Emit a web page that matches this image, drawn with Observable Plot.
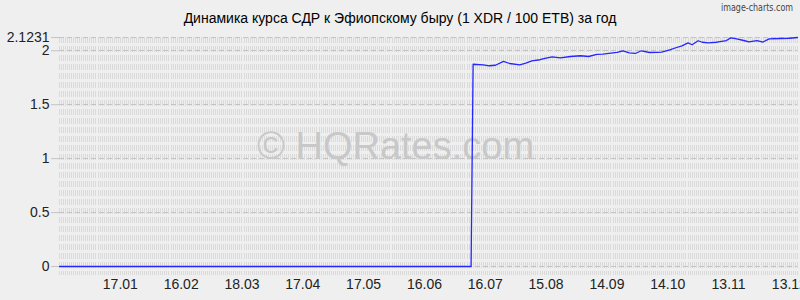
<!DOCTYPE html>
<html>
<head>
<meta charset="utf-8">
<script src="https://cdn.jsdelivr.net/npm/d3@7"></script>
<script src="https://cdn.jsdelivr.net/npm/@observablehq/plot@0.6"></script>
<style>
  html, body { margin: 0; padding: 0; background: #efefef; }
  #wrap { position: relative; width: 800px; height: 300px; overflow: hidden; background: #efefef; }
  #title { position: absolute; left: 0; top: 10px; width: 800px; text-align: center;
           font: 14px "Liberation Sans", Arial, sans-serif; color: #000; }
  #brand { position: absolute; right: 5px; top: 1px; }
  #chart { position: absolute; left: 0; top: 0; }
</style>
</head>
<body>
<div id="wrap">
  <div id="chart"></div>
  <div id="title">Динамика курса СДР к Эфиопскому быру (1 XDR / 100 ETB) за год</div>
  <svg id="brand" width="80" height="14"><text x="78" y="10" text-anchor="end" textLength="72" lengthAdjust="spacingAndGlyphs" font-family="DejaVu Sans" font-size="10" fill="#444">image-charts.com</text></svg>
</div>
<script>
// Period shown
const periodStart = "2022-12-18";
const periodEnd = "2023-12-17";

// X tick labels (dd.mm)
const xTickDates = ["2023-01-17","2023-02-16","2023-03-18","2023-04-17","2023-05-17","2023-06-16",
                    "2023-07-16","2023-08-15","2023-09-14","2023-10-14","2023-11-13","2023-12-13"];

// Y ticks
const yTicks = [0, 0.5, 1, 1.5, 2, 2.1231];

// Series: dates and values (XDR per 100 ETB)
const dates = [
  "2022-12-18","2023-07-09","2023-07-10","2023-07-15","2023-07-18","2023-07-21","2023-07-25","2023-07-28",
  "2023-08-02","2023-08-05","2023-08-08","2023-08-12","2023-08-15","2023-08-18","2023-08-22","2023-08-27",
  "2023-09-01","2023-09-05","2023-09-09","2023-09-12","2023-09-16","2023-09-19","2023-09-22","2023-09-25",
  "2023-09-28","2023-10-01","2023-10-05","2023-10-09","2023-10-11","2023-10-15","2023-10-18","2023-10-21",
  "2023-10-24","2023-10-26","2023-10-29","2023-10-31","2023-11-03","2023-11-07","2023-11-08","2023-11-12",
  "2023-11-14","2023-11-17","2023-11-21","2023-11-23","2023-11-27","2023-11-30","2023-12-03","2023-12-08",
  "2023-12-13","2023-12-17"
];
const values = [
  0, 0, 1.875, 1.870, 1.861, 1.866, 1.901, 1.882,
  1.870, 1.886, 1.907, 1.917, 1.932, 1.944, 1.935, 1.947,
  1.954, 1.947, 1.966, 1.969, 1.979, 1.986, 2.000, 1.981,
  1.975, 2.000, 1.984, 1.986, 1.988, 2.009, 2.028, 2.046,
  2.074, 2.056, 2.093, 2.079, 2.074, 2.079, 2.083, 2.095,
  2.120, 2.111, 2.093, 2.083, 2.095, 2.081, 2.111, 2.114,
  2.116, 2.1231
];

const parse = d3.utcParse("%Y-%m-%d");
const data = dates.map((d, i) => ({date: parse(d), value: values[i]}));
const x0 = parse(periodStart), x1 = parse(periodEnd);
const gridDays = d3.utcDay.range(x0, d3.utcDay.offset(x1, 1));

const chart = Plot.plot({
  width: 800,
  height: 300,
  marginLeft: 59,
  marginRight: 3,
  marginTop: 37,
  marginBottom: 25,
  style: {background: "transparent", fontFamily: "'Liberation Sans', Arial, sans-serif", fontSize: "14px", color: "#000", overflow: "visible"},
  x: {type: "utc", domain: [x0, x1], label: null},
  y: {domain: [-0.0833, 2.1231], label: null},
  marks: [
    Plot.ruleX(gridDays, {stroke: "#dadada", strokeDasharray: "6,3", strokeWidth: 1, shapeRendering: "crispEdges"}),
    Plot.ruleY(yTicks, {stroke: "#c4c4c4", strokeDasharray: "5,3", strokeWidth: 1, shapeRendering: "crispEdges"}),
    Plot.text(["© HQRates.com"], {frameAnchor: "middle", dx: -33, dy: -10, fontSize: 38, fill: "#c8c8c8", fontFamily: "'Liberation Sans', Arial, sans-serif"}),
    Plot.line(data, {x: "date", y: "value", stroke: "#2626ff", strokeWidth: 1.3}),
    Plot.axisX({ticks: xTickDates.map(parse), tickFormat: d3.utcFormat("%d.%m"), tickSize: 0, tickPadding: 4, fontSize: 14, color: "#222", label: null}),
    Plot.axisY({ticks: yTicks, tickFormat: d => String(d), tickSize: 8, tickPadding: 2, stroke: "#c4c4c4", fontSize: 14, color: "#222", label: null})
  ]
});
document.getElementById("chart").appendChild(chart);
</script>
</body>
</html>
